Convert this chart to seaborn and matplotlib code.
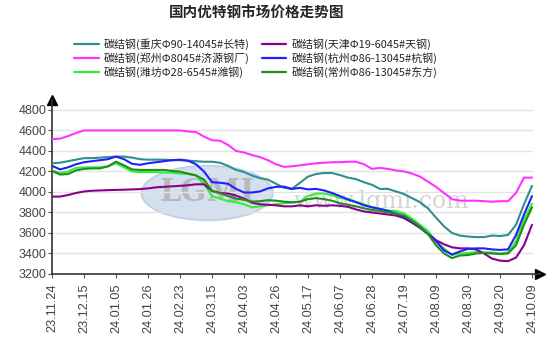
import numpy as np
import pandas as pd
import matplotlib
matplotlib.use("Agg")
import matplotlib.pyplot as plt
from matplotlib.patches import Ellipse
import seaborn as sns

title = "国内优特钢市场价格走势图"
tick_labels = ["23.11.24", "23.12.15", "24.01.05", "24.01.26", "24.02.23", "24.03.15",
               "24.04.03", "24.04.26", "24.05.17", "24.06.07", "24.06.28", "24.07.19",
               "24.08.09", "24.08.30", "24.09.20", "24.10.09"]

names = ["碳结钢(重庆Φ90-14045#长特)", "碳结钢(郑州Φ8045#济源钢厂)", "碳结钢(潍坊Φ28-6545#潍钢)",
         "碳结钢(天津Φ19-6045#天钢)", "碳结钢(杭州Φ86-13045#杭钢)", "碳结钢(常州Φ86-13045#东方)"]

chongqing = [4280, 4285, 4300, 4315, 4330, 4330, 4335, 4340, 4345, 4345, 4335, 4320, 4315, 4315, 4315, 4310,
             4310, 4305, 4300, 4295, 4295, 4285, 4255, 4215, 4195, 4160, 4135, 4120, 4080, 4040, 4030, 4090,
             4150, 4175, 4185, 4185, 4165, 4140, 4125, 4095, 4070, 4030, 4030, 4005, 3980, 3940, 3900, 3840,
             3750, 3665, 3600, 3575, 3565, 3560, 3560, 3575, 3570, 3580, 3680, 3880, 4060]
zhengzhou = [4515, 4520, 4545, 4575, 4600, 4600, 4600, 4600, 4600, 4600, 4600, 4600, 4600, 4600, 4600, 4600,
             4600, 4590, 4585, 4540, 4505, 4500, 4460, 4400, 4385, 4360, 4340, 4310, 4270, 4245, 4250, 4260,
             4270, 4280, 4285, 4290, 4290, 4295, 4295, 4270, 4225, 4235, 4225, 4210, 4200, 4180, 4150, 4100,
             4050, 3990, 3930, 3915, 3915, 3915, 3910, 3905, 3910, 3910, 3990, 4140, 4140]
weifang = [4210, 4185, 4200, 4235, 4240, 4240, 4240, 4250, 4280, 4240, 4200, 4195, 4195, 4195, 4190, 4188,
           4180, 4175, 4165, 4080, 3960, 3935, 3910, 3900, 3880, 3850, 3860, 3870, 3880, 3890, 3895, 3905,
           3960, 3985, 3985, 3970, 3940, 3935, 3905, 3880, 3850, 3835, 3820, 3815, 3790, 3740, 3680, 3620,
           3520, 3450, 3385, 3400, 3405, 3415, 3410, 3410, 3400, 3410, 3520, 3730, 3885]
tianjin = [3955, 3955, 3970, 3990, 4005, 4012, 4015, 4018, 4020, 4022, 4025, 4028, 4035, 4045, 4050, 4055,
           4060, 4065, 4075, 4075, 4010, 3990, 3985, 3965, 3935, 3895, 3880, 3875, 3870, 3860, 3860, 3870,
           3860, 3870, 3865, 3870, 3865, 3855, 3830, 3810, 3800, 3790, 3780, 3770, 3745, 3700, 3650, 3590,
           3530, 3490, 3460, 3450, 3450, 3440, 3400, 3350, 3330, 3325, 3360, 3480, 3680]
hangzhou = [4255, 4220, 4240, 4270, 4290, 4300, 4310, 4320, 4345, 4320, 4275, 4265, 4280, 4290, 4300, 4310,
            4315, 4305, 4270, 4200, 4095, 4090, 4080, 4030, 3995, 3995, 4005, 4035, 4050, 4052, 4030, 4040,
            4025, 4030, 4015, 3990, 3960, 3925, 3900, 3870, 3850, 3835, 3815, 3790, 3760, 3715, 3660, 3590,
            3520, 3430, 3390, 3420, 3445, 3450, 3450, 3440, 3435, 3440, 3580, 3780, 3960]
changzhou = [4205, 4170, 4175, 4210, 4225, 4230, 4230, 4250, 4295, 4260, 4220, 4215, 4215, 4215, 4215, 4205,
             4198, 4180, 4160, 4120, 4010, 3990, 3960, 3935, 3925, 3905, 3910, 3920, 3915, 3905, 3900, 3905,
             3930, 3940, 3930, 3915, 3890, 3875, 3860, 3840, 3825, 3815, 3800, 3790, 3770, 3720, 3660, 3590,
             3480, 3400, 3355, 3380, 3385, 3400, 3405, 3400, 3395, 3400, 3480, 3680, 3850]

series = [chongqing, zhengzhou, weifang, tianjin, hangzhou, changzhou]
colors = ["#2f8f8f", "#ff33ff", "#33ee33", "#8b008b", "#1f1fff", "#228b22"]

pos = np.arange(len(chongqing)) / 4.0
df = pd.concat([pd.DataFrame({"x": pos, "price": v, "series": n}) for n, v in zip(names, series)],
               ignore_index=True)

sns.set_theme(style="white")
plt.rcParams['font.family'] = ['Noto Sans CJK SC', 'DejaVu Sans']

fig = plt.figure(figsize=(5.54, 3.54), dpi=100)
ax = fig.add_axes([52/554, (354-274)/354, (540-52)/554, 174/354])

# watermark
ax.add_patch(Ellipse((4.85, 3990), 4.1, 530, facecolor="#d3e0ef", edgecolor="#c2d3e8", lw=1.5, zorder=0))
ax.text(4.85, 3990, "LGMI", ha="center", va="center", fontsize=22, color="#b8b8b8",
        fontweight="bold", family="DejaVu Serif", zorder=0)
ax.text(10.3, 3905, "www.lgmi.com", ha="center", va="center", fontsize=17, color="#d4d4d4",
        family="DejaVu Serif", zorder=0)

for yv in range(3400, 4801, 200):
    ax.plot([0, 15], [yv, yv], color="#e3e3e3", lw=1, zorder=0.5)

sns.lineplot(data=df, x="x", y="price", hue="series", palette=dict(zip(names, colors)),
             hue_order=names, ax=ax, lw=1.5, legend=False, zorder=3)

ax.set_xlim(0, 15.25)
ax.set_ylim(3200, 4897)
ax.set_xticks(range(16))
ax.set_xticklabels(tick_labels, rotation=90, family="Liberation Sans", fontsize=9.2, color="#444444")
ax.set_yticks(range(3200, 4801, 200))
ax.set_yticklabels([str(v) for v in range(3200, 4801, 200)], family="Liberation Sans",
                   fontsize=9, color="#444444")
ax.tick_params(axis="x", length=3, width=0.8, color="#555555", pad=4, bottom=True)
ax.tick_params(axis="y", length=3, width=0.8, color="#555555", pad=1, left=True)
ax.set_xlabel("")
ax.set_ylabel("")
ax.grid(False)
for s in ["top", "right"]:
    ax.spines[s].set_visible(False)
for s in ["left", "bottom"]:
    ax.spines[s].set_color("#333333")
    ax.spines[s].set_linewidth(1.2)
ax.plot(1, 0, ">", color="black", ms=7, transform=ax.transAxes, clip_on=False)
ax.plot(0, 1, "^", color="black", ms=7, transform=ax.transAxes, clip_on=False)

fig.text(0.464, 0.963, title, ha="center", va="center", fontsize=10.5, fontweight="bold")

handles = [plt.Line2D([], [], color=c, lw=1.6) for c in colors]
fig.legend(handles, names, ncol=2, loc="upper center", bbox_to_anchor=(0.462, 0.91), frameon=False,
           fontsize=7.9, labelspacing=0.2, handlelength=2.2, handletextpad=0.5, columnspacing=1.1,
           borderpad=0.1)

fig.savefig("out.png", dpi=100)
